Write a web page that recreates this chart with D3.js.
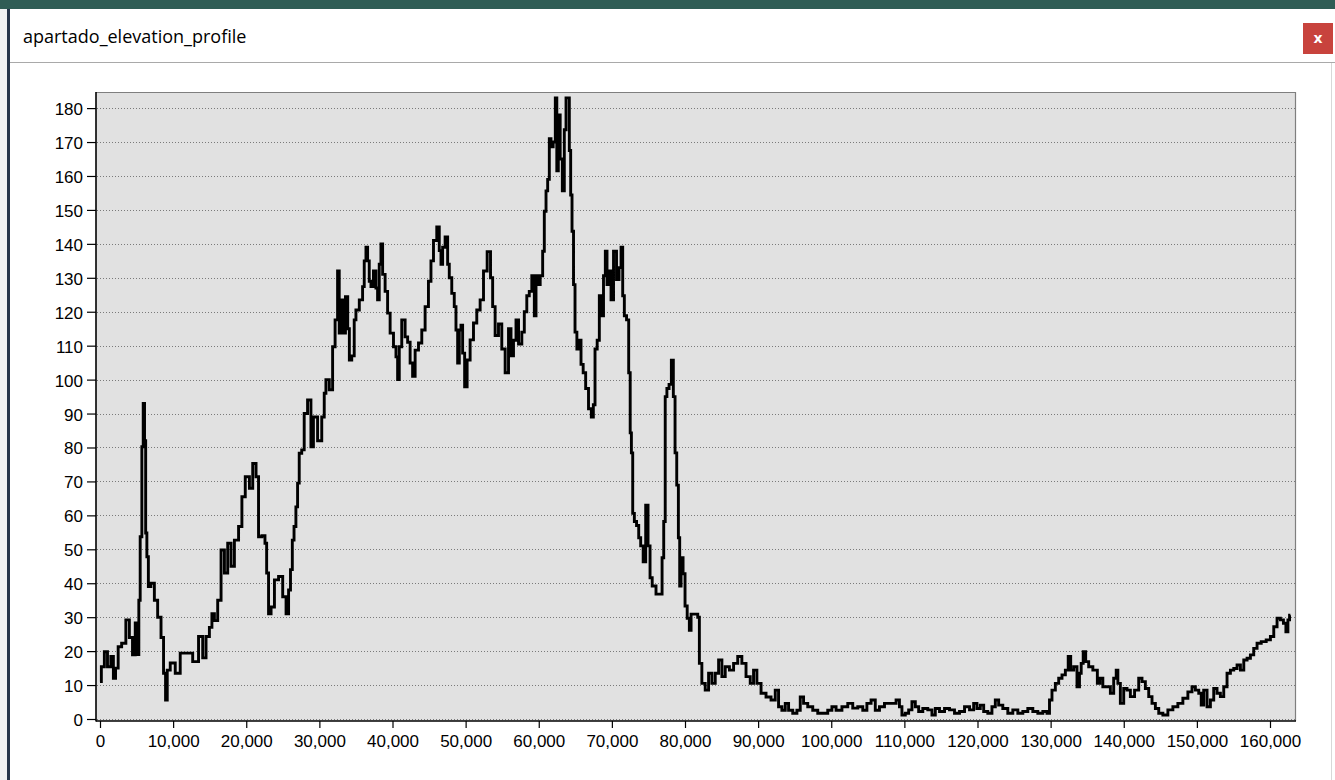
<!DOCTYPE html>
<html><head><meta charset="utf-8">
<script src="https://cdn.jsdelivr.net/npm/d3@7"></script>
<style>html,body{margin:0;padding:0;background:#fff;overflow:hidden}</style>
</head><body><svg id="c" width="1335" height="780"></svg>
<script>
const windowTitle = "apartado_elevation_profile";

const distance = [
0,370,820,1230,1740,1920,2330,2640,3280,3790,4240,4650,4990,5240,5380,5610,5840,5980,6200,6290,
6530,6700,7210,7660,8110,8580,8800,9130,9260,9950,10630,11310,12220,13130,13820,14270,14730,15190,15420,15870,
16320,16790,17240,17690,18150,18610,19290,19520,20210,20660,21110,21570,21790,22480,22640,22940,23160,23630,24080,24760,
25210,25680,25900,26200,26400,26670,26910,27130,27360,27810,28040,28730,28960,29410,30100,30550,30780,31010,31700,31920,
32380,32600,32830,33070,33380,33750,34000,34200,34650,34880,35120,35800,36020,36250,36490,36700,36940,37170,37620,37850,
38070,38300,38540,38760,39220,39440,39910,40360,40590,40810,41040,41490,41960,42180,42640,42860,43330,43780,44230,44690,
45140,45380,45830,46280,46510,46750,46960,47430,47650,47880,48330,48560,48800,49020,49250,49480,49700,50030,50380,50850,
51300,51750,52220,52670,53220,53590,53800,54270,54720,55170,55640,56090,56320,56770,57010,57460,57910,58140,58590,58820,
59280,59510,59740,59960,60430,60640,60880,61110,61330,61560,61790,62150,62380,62560,62790,63070,63380,63610,63850,64060,
64300,64430,64670,64840,65080,65350,65660,65900,66250,66580,67030,67350,67580,67810,68170,68400,68720,68990,69220,69450,
69770,70000,70450,70820,71140,71370,71590,71820,72190,72410,72600,72740,72960,73190,73560,73780,74100,74460,74790,75100,
75340,75690,76380,76750,76980,77200,77390,77660,77980,78290,78520,78760,78980,79210,79340,79580,79890,80120,80480,80710,
80950,81630,81850,82080,82530,83000,83450,83900,84370,84820,85270,85730,86420,86870,87550,88000,88690,89150,89600,90060,
90740,91420,92110,92570,93020,93480,93940,94390,95080,95530,95990,96440,97130,97810,98500,99180,99860,100320,101000,101920,
102600,103280,103970,104650,105100,105790,106250,106940,107620,108520,109210,109440,109890,110360,110810,111260,111730,112180,112860,113540,
114000,114460,115150,115830,116510,117200,117880,118570,119250,119700,120150,120620,121070,121750,122200,122670,123120,123800,124490,125170,
125860,126540,127220,127910,128590,129280,129730,129960,130410,130880,131330,131780,132250,132560,132930,133380,133830,134060,134300,134610,
134980,135430,136120,136660,136800,137480,137940,138400,138850,139090,139300,139770,140220,140670,141140,141820,142270,142720,143190,143640,
144090,144560,145010,145690,146380,147060,147740,148430,149110,149560,150030,150480,150710,151160,151620,152080,152530,152980,153450,153900,
154350,154820,155270,155720,156190,156640,157090,157550,158000,158460,159140,159820,160290,160740,161190,161660,162010,162340,162560,162790
];

const elevation = [
11,15.4,19.8,15.4,18.4,12,15,21.3,22.3,29.2,24,18.9,28.3,19,35,53.7,80.2,93,82,54.8,
47.8,39,40,35,30,24,13.5,5.6,14.4,16.5,13.5,19.4,19.4,16.9,24.3,18,24.3,27,31,29,
35,49.8,43,51.8,45,52.7,56.7,65.5,71.4,68,75.3,71.4,53.7,54,51.8,43,31,33,41,42,
36,31,38,44,52.7,56.7,62.5,69.5,78.3,79.3,90,94,80.2,89,82,89,96,100,97,109.7,
117.6,132,113.7,123.5,113.7,124.4,115,105.8,107,117.6,120.5,123.5,127.4,135,139,135,129,127.4,132,127,
123.5,134,140,131,126,119.6,113.7,109.7,106.7,100,109.7,117.6,112.6,111,104.9,101,108.7,110.8,114.6,121.5,
129,135,141,145,138,134,139,142,134,130,125.4,121.5,114.6,104.9,114.6,116,107.8,97.9,105.8,111.7,
116.7,120.5,123.5,132,137.7,130,121.5,113,116.4,109,102,115,107,111.6,117.6,110.5,114,120,124.7,126,
130.6,118.8,130.6,128,130.6,137.8,149.6,155.6,159,171,168.6,170,183,161.5,178,165,155.6,173.6,183,183,
167.5,154.4,143.7,128,114,109,111.6,104.5,102,97.4,91.4,89,92.6,109,111.6,124.7,118.8,130.6,137.8,128,
132,123.5,137.8,129.5,133,139,124.7,118.8,117.6,102,84.3,78.4,60.6,58.2,57,53.4,51,46.3,63,51,
41.6,39.2,36.8,36.8,47.5,58.2,95,97.4,98.6,105.7,95,78.4,68.9,53.4,39.2,47.5,42.8,33.3,29.7,26.1,
30.9,30.9,30,16.4,10.5,8.5,13.5,10.5,13.5,17.4,12.5,15.4,14.4,16.4,18.4,16.4,12.5,10.5,14.4,10.5,
7.6,6.5,5.6,8.5,3.6,2.6,4.6,2.6,1.7,2.6,6.5,4.6,3.6,2.6,1.7,1.7,2.6,3.6,2.6,3.6,
4.6,3.2,3.6,2.6,4.6,5.6,2.6,3.6,4.6,4.6,5.6,3.6,1.2,1.7,2.7,5.1,3.6,2.2,3.1,2.7,
1.2,3.1,2.2,3.1,2.7,1.7,2.2,3.6,2.7,4.6,3.1,4.1,2.2,1.7,3.6,5.6,4.1,3.1,1.7,2.7,
1.7,2.2,3.1,2.2,1.7,2.2,1.7,5.6,8.5,10.5,12,13,14.4,18.4,14.4,15.4,9.5,13.5,16.4,19.8,
16.9,15.4,14.4,10.5,12,9.5,9.5,7.6,12,14.4,10.5,4.6,9,8.5,6.6,8.5,12,11,9,6.6,
4.6,3.1,1.7,1.2,2.7,3.6,4.6,6.1,8,9.5,8.5,7.6,4.1,8.5,3.6,5.6,9,7.6,6.6,9.5,
13.5,14.4,14.9,15.9,14.4,17.4,17.9,18.9,20.8,22.3,22.8,23.3,24.3,27.2,29.7,29.2,28.2,25.7,29.2,30.6
];

const xTicks = [0,10000,20000,30000,40000,50000,60000,70000,80000,90000,100000,110000,120000,130000,140000,150000,160000];
const yTicks = [0,10,20,30,40,50,60,70,80,90,100,110,120,130,140,150,160,170,180];

const svg = d3.select("#c");

// window chrome
svg.append("rect").attr("x",0).attr("y",0).attr("width",1335).attr("height",780).attr("fill","#ffffff");
svg.append("rect").attr("x",0).attr("y",0).attr("width",1335).attr("height",9).attr("fill","#2f5d55");
svg.append("rect").attr("x",0).attr("y",9).attr("width",7).attr("height",771).attr("fill","#eef2f2");
svg.append("rect").attr("x",7).attr("y",9).attr("width",3).attr("height",771).attr("fill","#24364a");
svg.append("line").attr("x1",10).attr("x2",1335).attr("y1",62.5).attr("y2",62.5).attr("stroke","#a9a9a9").attr("stroke-width",1);
svg.append("line").attr("x1",1331.5).attr("x2",1331.5).attr("y1",63).attr("y2",780).attr("stroke","#d8d8d8").attr("stroke-width",1);
svg.append("text").attr("x",23).attr("y",43).text(windowTitle)
  .attr("font-family","'Open Sans','Noto Sans',sans-serif").attr("font-size",18).attr("fill","#000");
svg.append("rect").attr("x",1303).attr("y",23).attr("width",30).attr("height",31).attr("fill","#c8433d");
svg.append("text").attr("x",1318).attr("y",43).attr("text-anchor","middle").text("x")
  .attr("font-family","'DejaVu Sans',sans-serif").attr("font-weight","bold").attr("font-size",14).attr("fill","#fff");

// scales
const x = d3.scaleLinear().domain([0,160000]).range([100,1270]);
const y = d3.scaleLinear().domain([0,180]).range([719,108.1]);
const pLeft = 96, pRight = 1296, pTop = 92, pBottom = 721;

svg.append("rect").attr("x",pLeft).attr("y",pTop).attr("width",pRight-pLeft).attr("height",pBottom-pTop).attr("fill","#e1e1e1");

// grid
svg.append("g").selectAll("line").data(yTicks).join("line")
  .attr("x1",pLeft+1).attr("x2",pRight-1)
  .attr("y1",d=>Math.round(y(d))+0.5).attr("y2",d=>Math.round(y(d))+0.5)
  .attr("stroke","#7a7a7a").attr("stroke-width",1).attr("stroke-dasharray","1,2");

// border top/right
svg.append("path").attr("d",`M${pLeft},${pTop+0.5}H${pRight-0.5}V${pBottom}`).attr("fill","none").attr("stroke","#7f7f7f").attr("stroke-width",1.2);

// data line
svg.append("clipPath").attr("id","clip").append("rect").attr("x",pLeft).attr("y",pTop).attr("width",pRight-pLeft).attr("height",pBottom-pTop);
const pts = distance.map((d,i)=>[d,elevation[i]]);
const line = d3.line().curve(d3.curveStep).x(d=>x(d[0])).y(d=>y(d[1]));
svg.append("path").attr("clip-path","url(#clip)").attr("d",line(pts))
  .attr("fill","none").attr("stroke","#000").attr("stroke-width",2.9).attr("stroke-linejoin","miter");

// axes
const fontFam = "'Liberation Sans',Arial,sans-serif";
const yAxis = svg.append("g").attr("transform",`translate(${pLeft},0)`)
  .call(d3.axisLeft(y).tickValues(yTicks).tickSize(9).tickPadding(4).tickFormat(d3.format("d")));
yAxis.select(".domain").remove();
yAxis.selectAll("text").attr("font-family",fontFam).attr("font-size",17).attr("fill","#000").attr("dy","0.38em");
yAxis.selectAll("line").attr("stroke","#000").attr("stroke-width",1.2);

const xAxis = svg.append("g").attr("transform",`translate(0,${pBottom})`)
  .call(d3.axisBottom(x).tickValues(xTicks).tickSize(7).tickPadding(7).tickFormat(d3.format(",")));
xAxis.select(".domain").remove();
xAxis.selectAll("text").attr("font-family",fontFam).attr("font-size",17).attr("fill","#000");
xAxis.selectAll("line").attr("stroke","#000").attr("stroke-width",1.2);

svg.append("line").attr("x1",pLeft).attr("x2",pLeft).attr("y1",pTop).attr("y2",pBottom+0.5).attr("stroke","#000").attr("stroke-width",1.6);
svg.append("line").attr("x1",pLeft).attr("x2",pRight).attr("y1",pBottom).attr("y2",pBottom).attr("stroke","#000").attr("stroke-width",1.6);
</script></body></html>
